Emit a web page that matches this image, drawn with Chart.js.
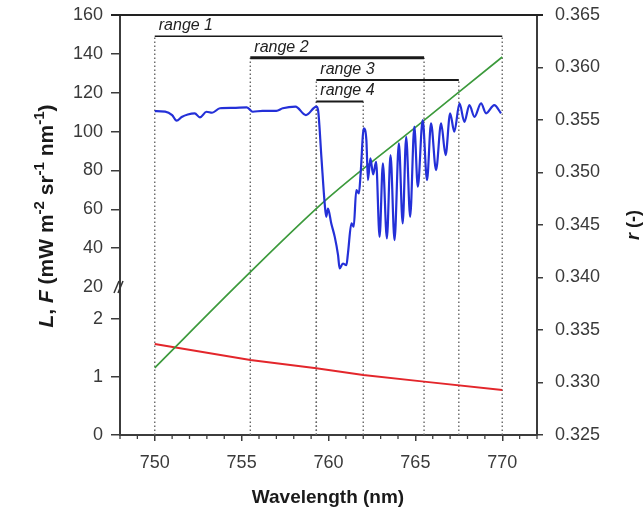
<!DOCTYPE html>
<html><head><meta charset="utf-8">
<script src="https://cdn.jsdelivr.net/npm/chart.js@4.4.1/dist/chart.umd.min.js"></script>
<style>html,body{margin:0;padding:0;background:#fff}canvas{display:block}</style>
</head><body>
<canvas id="c" width="643" height="514"></canvas>
<script>
// ---------- data ----------
const wavelengthL = [750.0,750.6,751.0,751.26,751.55,751.9,752.3,752.6,752.98,753.3,753.75,754.5,755.3,755.64,756.2,757.0,757.37,758.1,758.7,759.3,759.4,759.59,759.78,759.87,759.97,760.16,760.36,760.55,760.64,760.83,761.03,761.12,761.32,761.45,761.6,761.75,761.85,762.03,762.18,762.27,762.41,762.57,762.74,762.94,763.13,763.36,763.57,763.8,764.05,764.27,764.47,764.7,764.94,765.14,765.42,765.67,765.9,766.19,766.48,766.74,767.0,767.24,767.54,767.82,768.11,768.4,768.78,769.07,769.54,769.93];
const radianceL = [110.5,110.3,108.5,105.6,107.5,108.8,109.4,107.3,110.2,109.7,112.0,112.2,112.5,110.2,110.7,110.7,112.0,112.8,108.5,112.8,111,87,63,56.1,60.4,52.7,45.8,36.4,29.6,32.1,31.2,37.3,52.7,51,69.9,68.2,78.5,101.6,95.6,75,86.2,78,84.4,45.8,83.6,45,87.9,44.1,93.9,52.7,97.3,56.1,102.5,71.6,105.9,75,104.2,80.2,104.2,87.9,109.4,99.9,114.5,105,113.6,107.6,114.5,109.4,113.6,109.4];
const wavelengthF = [750, 755.5, 759.3, 762, 765.5, 770];
const fluorF = [1.569, 1.293, 1.15, 1.034, 0.92, 0.776];
const wavelengthR = [750, 755, 760, 765, 770];
const reflR = [0.3314, 0.3397, 0.3476, 0.3543, 0.3610];
const rangeNames = ['range 1','range 2','range 3','range 4'];
const rangeStart = [750, 755.5, 759.3, 759.3];
const rangeEnd = [770, 765.5, 767.5, 762];
const rangeLevel = [149, 138, 126.5, 115.5];
const xTicks = [750, 755, 760, 765, 770];
const xMinorTicks = [748,749,751,752,753,754,756,757,758,759,761,762,763,764,766,767,768,769,771,772];
const leftTicksLow = [0, 1, 2];
const leftTicksHigh = [20, 40, 60, 80, 100, 120, 140, 160];
const rightTicks = [0.325, 0.330, 0.335, 0.340, 0.345, 0.350, 0.355, 0.360, 0.365];

// ---------- broken left axis mapping ----------
const U_MAX = 7.2414, U_BREAK = 2.5517;
const K_HIGH = (U_MAX - U_BREAK) / (160 - 20);
const uHigh = v => U_BREAK + (v - 20) * K_HIGH;
const uInv = u => u <= 2.0001 ? Math.round(u) : Math.round(20 + (u - U_BREAK) / K_HIGH);

const FONT = '"Liberation Sans", Arial, Helvetica, sans-serif';
const TICKC = '#3a3a3a';
const AXC = '#3c3c3c';

const datasets = [];
// blue L
datasets.push({label:'L', yAxisID:'y', data: wavelengthL.map((w,i)=>({x:w, y:uHigh(radianceL[i])})),
  borderColor:'#2430d8', borderWidth:2.2, pointRadius:0, cubicInterpolationMode:'monotone', order:1});
// green r
datasets.push({label:'r', yAxisID:'y2', data: wavelengthR.map((w,i)=>({x:w, y:reflR[i]})),
  borderColor:'#3c9a3c', borderWidth:1.7, pointRadius:0, cubicInterpolationMode:'monotone', order:2});
// red F
datasets.push({label:'F', yAxisID:'y', data: wavelengthF.map((w,i)=>({x:w, y:fluorF[i]})),
  borderColor:'#e3262b', borderWidth:1.9, pointRadius:0, tension:0, order:3});
// range bars
const barWidths = [1.5, 3, 2, 2];
rangeNames.forEach((n,i)=>{
  datasets.push({label:n, yAxisID:'y', data:[{x:rangeStart[i], y:uHigh(rangeLevel[i])},{x:rangeEnd[i], y:uHigh(rangeLevel[i])}],
    borderColor:'#1a1a1a', borderWidth:barWidths[i], pointRadius:0, order:4});
});
// dotted verticals
rangeNames.forEach((n,i)=>{
  [rangeStart[i], rangeEnd[i]].forEach(w=>{
    datasets.push({label:n+' edge', yAxisID:'y', data:[{x:w, y:0},{x:w, y:uHigh(rangeLevel[i])}],
      borderColor:'#666', borderWidth:1.4, borderDash:[1.5,2.5], pointRadius:0, order:5});
  });
});

const deco = {
  id:'deco',
  afterDraw(chart){
    const {ctx, chartArea:a, scales:{x, y}} = chart;
    ctx.save();
    // top border
    ctx.strokeStyle = '#222'; ctx.lineWidth = 2;
    ctx.beginPath(); ctx.moveTo(a.left - 9, a.top); ctx.lineTo(a.right + 6, a.top); ctx.stroke();
    // minor x ticks
    ctx.strokeStyle = AXC; ctx.lineWidth = 1.3;
    xMinorTicks.forEach(v=>{
      const px = x.getPixelForValue(v);
      ctx.beginPath(); ctx.moveTo(px, a.bottom); ctx.lineTo(px, a.bottom + 4); ctx.stroke();
    });
    // axis break marker
    const pb = y.getPixelForValue(U_BREAK);
    ctx.strokeStyle = '#333'; ctx.lineWidth = 1.5;
    [[-6,-1],[-2,3]].forEach(([x0,x1])=>{
      ctx.beginPath(); ctx.moveTo(a.left + x0, pb + 6); ctx.lineTo(a.left + x1, pb - 6); ctx.stroke();
    });
    // range labels
    ctx.fillStyle = '#222'; ctx.font = 'italic 16px ' + FONT; ctx.textAlign = 'left'; ctx.textBaseline = 'alphabetic';
    rangeNames.forEach((n,i)=>{
      ctx.fillText(n, x.getPixelForValue(rangeStart[i]) + 4, y.getPixelForValue(uHigh(rangeLevel[i])) - 6);
    });
    // x title
    ctx.fillStyle = '#1a1a1a'; ctx.font = 'bold 19px ' + FONT; ctx.textAlign = 'center'; ctx.textBaseline = 'middle';
    ctx.fillText('Wavelength (nm)', 328, 498);
    // left title
    const fs = 21, ss = 15;
    const segs = [
      ['L', 'italic bold ' + fs + 'px ' + FONT, 0],
      [', ', 'bold ' + fs + 'px ' + FONT, 0],
      ['F', 'italic bold ' + fs + 'px ' + FONT, 0],
      [' (mW m', 'bold ' + fs + 'px ' + FONT, 0],
      ['-2', 'bold ' + ss + 'px ' + FONT, -9],
      [' sr', 'bold ' + fs + 'px ' + FONT, 0],
      ['-1', 'bold ' + ss + 'px ' + FONT, -9],
      [' nm', 'bold ' + fs + 'px ' + FONT, 0],
      ['-1', 'bold ' + ss + 'px ' + FONT, -9],
      [')', 'bold ' + fs + 'px ' + FONT, 0]
    ];
    let tw = 0;
    segs.forEach(s=>{ ctx.font = s[1]; tw += ctx.measureText(s[0]).width; });
    ctx.translate(53, 216); ctx.rotate(-Math.PI/2);
    ctx.textAlign = 'left'; ctx.textBaseline = 'alphabetic';
    let cx = -tw/2;
    segs.forEach(s=>{ ctx.font = s[1]; ctx.fillText(s[0], cx, s[2]); cx += ctx.measureText(s[0]).width; });
    ctx.setTransform(1,0,0,1,0,0);
    // right title
    const rs = [['r', 'italic bold 18px ' + FONT], [' (-)', 'bold 18px ' + FONT]];
    let rw = 0; rs.forEach(s=>{ ctx.font = s[1]; rw += ctx.measureText(s[0]).width; });
    ctx.translate(639, 225); ctx.rotate(-Math.PI/2);
    let rx = -rw/2;
    rs.forEach(s=>{ ctx.font = s[1]; ctx.fillText(s[0], rx, 0); rx += ctx.measureText(s[0]).width; });
    ctx.restore();
  }
};

const noPadV = s => { s.paddingTop = 0; s.paddingBottom = 0; };

new Chart(document.getElementById('c'), {
  type:'line',
  data:{datasets},
  plugins:[deco],
  options:{
    responsive:false, animation:false, devicePixelRatio:1,
    layout:{padding:{top:15, left:0, right:0, bottom:0}},
    plugins:{legend:{display:false}, tooltip:{enabled:false}},
    scales:{
      x:{type:'linear', min:748, max:772, position:'bottom',
        afterBuildTicks: s => { s.ticks = xTicks.map(v=>({value:v})); },
        afterFit: s => { s.height = 79; s.paddingLeft = 0; s.paddingRight = 0; },
        ticks:{font:{family:FONT, size:18}, color:TICKC, padding:11, maxRotation:0},
        grid:{drawOnChartArea:false, tickLength:6, color:AXC, lineWidth:1.5},
        border:{display:true, color:AXC, width:2}},
      y:{type:'linear', min:0, max:U_MAX, position:'left',
        afterBuildTicks: s => { s.ticks = leftTicksLow.map(v=>({value:v})).concat(leftTicksHigh.map(v=>({value:uHigh(v)}))); },
        afterFit: s => { s.width = 120; noPadV(s); },
        ticks:{font:{family:FONT, size:18}, color:TICKC, padding:8, callback: v => String(uInv(v))},
        grid:{drawOnChartArea:false, tickLength:9, lineWidth:1.5,
          color: c => (c.index === 3 ? 'rgba(0,0,0,0)' : AXC)},
        border:{display:true, color:AXC, width:2}},
      y2:{type:'linear', min:0.325, max:0.365, position:'right',
        afterBuildTicks: s => { s.ticks = rightTicks.map(v=>({value:v})); },
        afterFit: s => { s.width = 106; noPadV(s); },
        ticks:{font:{family:FONT, size:18}, color:TICKC, padding:12, callback: v => v.toFixed(3)},
        grid:{drawOnChartArea:false, tickLength:6, color:AXC, lineWidth:1.5},
        border:{display:true, color:AXC, width:2}}
    }
  }
});
</script>
</body></html>
